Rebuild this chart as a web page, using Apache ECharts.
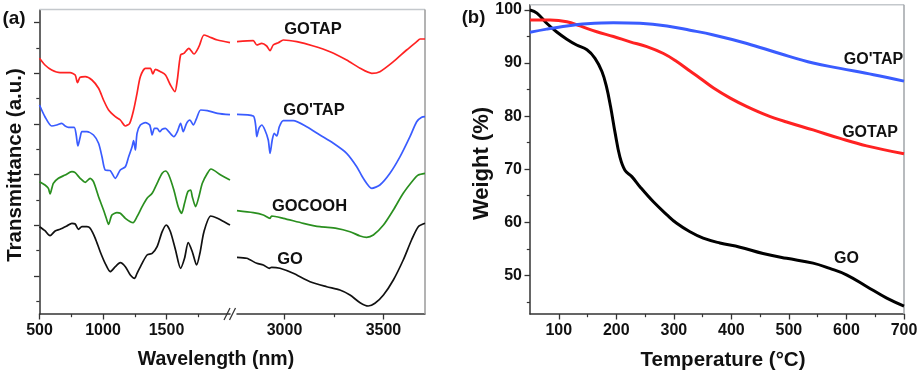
<!DOCTYPE html>
<html>
<head>
<meta charset="utf-8">
<script src="https://cdn.jsdelivr.net/npm/echarts@6/dist/echarts.min.js"></script>
<style>
html,body{margin:0;padding:0;background:#fff;}
#chart{width:922px;height:376px;}
</style>
</head>
<body>
<div id="chart"></div>
<script>
// (a) FTIR spectra, [wavenumber, transmittance a.u.], axis broken between 2000 and 2760
var gotapLeft = [[500,255.7],[543,249],[596,244],[662,241.3],[741,241.3],[781,239],[799,231.3],[820,236.7],[860,237.3],[913,234],[965,225.7],[1004,214],[1044,204],[1097,197.3],[1136,194],[1176,188],[1210,190.7],[1241,204],[1268,220.7],[1294,237.3],[1334,245.7],[1373,245.7],[1392,240],[1413,244.7],[1453,242.3],[1492,239],[1531,229],[1566,222.3],[1585,234],[1611,259],[1637,260.7],[1676,265.7],[1716,260],[1755,267.3],[1795,279],[1834,277.3],[1901,274],[2000,271.3]];
var gotapRight = [[2760,272.3],[2842,273.3],[2860,269],[2885,270.7],[2910,268],[2927,263.3],[2943,269],[2969,271.3],[2994,274],[3062,272.3],[3146,268],[3230,262.3],[3314,254],[3382,245.7],[3441,240.7],[3482,242.3],[3550,252.3],[3617,264],[3668,272.3],[3685,275],[3710,275]];
var goptapLeft = [[500,209],[543,197.3],[596,188],[636,189],[675,190.7],[702,188],[728,186.7],[773,186.7],[789,179],[802,168],[820,176.7],[834,182.3],[873,182.3],[925,179],[965,170.7],[992,157.3],[1017,144],[1057,143.3],[1097,135.7],[1136,144],[1176,147.3],[1202,157.3],[1229,167.3],[1241,173.3],[1255,164],[1268,180.7],[1294,189],[1334,191.3],[1368,189],[1387,179],[1405,185.7],[1426,185.7],[1447,182.3],[1466,184.7],[1492,185.7],[1518,182.3],[1558,177.3],[1585,182.3],[1611,190.7],[1632,182.3],[1658,190.7],[1684,194],[1711,189],[1737,195.7],[1769,204],[1822,203.3],[1901,200.7],[2000,199.3]];
var goptapRight = [[2760,199.7],[2842,198],[2854,189],[2860,177.3],[2871,185.7],[2885,189],[2901,184],[2918,174],[2927,160.7],[2938,174],[2948,180.7],[2961,178],[2974,187.3],[2994,193.3],[3044,193.3],[3112,187.3],[3179,179],[3247,170.7],[3314,160.7],[3365,147.3],[3398,135.7],[3441,125.7],[3482,129],[3533,140.7],[3584,157.3],[3634,177.3],[3668,192.3],[3693,196.7],[3710,197.3]];
var gocoohLeft = [[500,132.3],[543,129],[570,125.7],[583,120],[609,130.7],[649,135.7],[702,139],[755,142.3],[781,141.3],[820,135.7],[860,131.7],[899,135.7],[925,132.3],[965,117.3],[1004,104],[1026,95.7],[1044,89.7],[1070,99],[1110,101.3],[1136,100.7],[1176,95.7],[1215,92.3],[1237,91.3],[1268,97.3],[1308,107.3],[1347,115.7],[1387,120.7],[1426,130.7],[1466,140.7],[1492,143],[1518,139],[1558,124],[1592,107.3],[1619,100.7],[1642,110.7],[1668,122.3],[1690,124],[1703,117.3],[1729,107.3],[1755,117.3],[1782,130.7],[1822,140.7],[1850,145],[1927,139],[2000,134]];
var gocoohRight = [[2760,103.3],[2842,101.3],[2893,99],[2927,95.7],[2935,98],[2994,95.7],[3095,90.7],[3179,87.3],[3263,85.7],[3331,82.3],[3382,78],[3415,76.7],[3449,79],[3500,89],[3550,104],[3600,120.7],[3651,134],[3676,139],[3710,140.7]];
var goLeft = [[500,87.3],[543,83.3],[583,78.3],[623,83],[662,84.7],[715,88],[755,90.7],[781,90],[807,84.7],[834,87.3],[873,87.3],[899,85.7],[939,75.7],[978,62.3],[1017,50.7],[1057,42.3],[1097,47.3],[1136,51.3],[1176,47.3],[1215,39],[1249,35.7],[1268,40.7],[1308,50.7],[1347,59],[1387,60.7],[1426,67.3],[1466,82.3],[1498,89],[1531,82.3],[1571,64],[1611,45.7],[1642,55.7],[1671,71.3],[1703,62.3],[1737,49],[1763,60.7],[1795,82.3],[1848,98],[1901,95.7],[1953,92.3],[2000,89]];
var goRight = [[2760,56.7],[2809,55.7],[2860,50.7],[2893,49],[2923,45.7],[2935,46.7],[2977,45.7],[3044,40.7],[3129,32.3],[3213,27.3],[3280,24],[3331,19],[3382,11.3],[3423,8],[3457,10.7],[3500,19],[3550,34],[3600,54],[3642,74],[3676,87.3],[3710,90.7]];

// (b) TGA, [temperature °C, weight %]
var tgaGO = [[50,100],[62,99.4],[79,97.5],[96,95.9],[114,94.5],[131,93.4],[149,92.5],[163,90.9],[175,88.4],[183,85.5],[190,81.8],[198,76.8],[206,72.4],[215,69.8],[227,68.6],[241,66.7],[264,63.9],[288,61.4],[305,59.8],[328,58.2],[351,57.0],[380,56.1],[415,55.3],[455,54.1],[496,53.2],[542,52.3],[571,51.3],[600,50.1],[635,47.9],[670,45.7],[700,44.2]];
var tgaGOTAP = [[50,98.1],[85,98.1],[114,97.8],[137,97.0],[166,95.9],[195,95.0],[224,94.0],[253,93.1],[282,91.8],[305,90.3],[328,88.5],[345,87.2],[369,85.3],[398,83.4],[427,81.8],[461,80.2],[496,78.9],[542,77.4],[589,75.8],[635,74.4],[700,72.9]];
var tgaGOpTAP = [[50,95.8],[79,96.4],[114,97.0],[149,97.4],[195,97.6],[241,97.5],[288,97.0],[328,96.2],[369,95.3],[427,93.7],[484,91.8],[542,90.0],[589,89.0],[647,87.8],[700,86.6]];

var waveTicksLeft = [500,1000,1500];
var waveMinorLeft = [750,1250,1750];
var waveTicksRight = [3000,3500];
var waveMinorRight = [3250];
var transTicks = [38,88.7,139.3,190,240.7,291.3];
var transMinor = [12.7,63.3,114,164.7,215.3,266];
var tempTicks = [100,200,300,400,500,600,700];
var tempMinor = [150,250,350,450,550,650];
var weightTicks = [50,60,70,80,90,100];
var weightMinor = [45,55,65,75,85,95];

var FONT = '"Liberation Sans", Arial, sans-serif';
var AX = '#333';
var RED = '#ff2222', BLUE = '#3a5cff', GREEN = '#2a8f1f', BLACK = '#111';

function mainAxis(grid, pos, min, max, ticks, labels, margin){
	return {
		type:'value', gridIndex:grid, position:pos, min:min, max:max,
		axisLine:{show:true, onZero:false, lineStyle:{color:AX, width:1.5}},
		axisTick:{show:true, length:5.5, customValues:ticks, lineStyle:{color:AX, width:1.3}},
		axisLabel:{show:labels, customValues:ticks, margin:margin, color:'#111', fontSize:16, fontWeight:'bold', fontFamily:FONT,
			formatter:function(v){ return String(v); }},
		splitLine:{show:false}
	};
}
function minorAxis(grid, pos, min, max, ticks){
	return {
		type:'value', gridIndex:grid, position:pos, min:min, max:max,
		axisLine:{show:false, onZero:false},
		axisTick:{show:true, length:3.2, customValues:ticks, lineStyle:{color:AX, width:1.2}},
		axisLabel:{show:false},
		splitLine:{show:false}
	};
}
function line(name, x, y, data, color, width, smooth){
	return {
		name:name, type:'line', xAxisIndex:x, yAxisIndex:y, data:data,
		symbol:'none', smooth:smooth, lineStyle:{color:color, width:width}
	};
}
function label(text, x, y, size, rot){
	return {
		type:'text', x:x, y:y, rotation:rot||0, z:100,
		style:{text:text, font:'bold '+size+'px '+FONT, fill:'#111', align:'center', verticalAlign:'middle'}
	};
}
function seg(x1, y1, x2, y2, color, w){
	return {type:'line', z:1, shape:{x1:x1, y1:y1, x2:x2, y2:y2}, style:{stroke:color, lineWidth:w}};
}

var chart = echarts.init(document.getElementById('chart'));
var option = {
	animation:false,
	backgroundColor:'#fff',
	grid:[
		{left:39.5, top:10, width:190.5, height:304},
		{left:237, top:10, width:188, height:304},
		{left:530, top:4.7, width:374, height:309.3}
	],
	xAxis:[
		mainAxis(0, 'bottom', 500, 2000, waveTicksLeft, true, 9),
		minorAxis(0, 'bottom', 500, 2000, waveMinorLeft),
		mainAxis(1, 'bottom', 2760, 3710, waveTicksRight, true, 9),
		minorAxis(1, 'bottom', 2760, 3710, waveMinorRight),
		mainAxis(2, 'bottom', 50, 700, tempTicks, true, 9),
		minorAxis(2, 'bottom', 50, 700, tempMinor)
	],
	yAxis:[
		mainAxis(0, 'left', 0, 304, transTicks, false, 8),
		minorAxis(0, 'left', 0, 304, transMinor),
		{type:'value', gridIndex:1, min:0, max:304, show:false},
		mainAxis(2, 'left', 42.71, 101, weightTicks, true, 8),
		minorAxis(2, 'left', 42.71, 101, weightMinor)
	],
	series:[
		line('GOTAP', 0, 0, gotapLeft, RED, 1.7, 0.25),
		line('GOTAP', 2, 2, gotapRight, RED, 1.7, 0.25),
		line("GO'TAP", 0, 0, goptapLeft, BLUE, 1.7, 0.25),
		line("GO'TAP", 2, 2, goptapRight, BLUE, 1.7, 0.25),
		line('GOCOOH', 0, 0, gocoohLeft, GREEN, 1.7, 0.25),
		line('GOCOOH', 2, 2, gocoohRight, GREEN, 1.7, 0.25),
		line('GO', 0, 0, goLeft, BLACK, 1.7, 0.25),
		line('GO', 2, 2, goRight, BLACK, 1.7, 0.25),
		line('GO', 4, 3, tgaGO, '#000', 3, 0.4),
		line('GOTAP', 4, 3, tgaGOTAP, RED, 3, 0.4),
		line("GO'TAP", 4, 3, tgaGOpTAP, BLUE, 3, 0.4)
	],
	graphic:[
		seg(39.5, 9.5, 425, 9.5, '#c4c8cc', 1.5),
		seg(425, 9.5, 425, 314, '#9a9a9a', 1.5),
		seg(530, 4.7, 904, 4.7, '#c4c8cc', 1.5),
		seg(904, 4.7, 904, 314, '#a0a4a8', 1.5),
		seg(224, 320, 230, 308, AX, 1.3),
		seg(229.5, 320, 235.5, 308, AX, 1.3),
		label('(a)', 14, 19, 19),
		label('(b)', 473.5, 18, 18.5),
		label('Transmittance (a.u.)', 15, 165, 20.5, Math.PI/2),
		label('Wavelength (nm)', 216, 360, 19.5),
		label('Weight (%)', 482, 163.5, 22, Math.PI/2),
		label('Temperature (°C)', 723, 360, 20.5),
		label('GOTAP', 313, 29, 16.5),
		label("GO'TAP", 314, 110, 16.5),
		label('GOCOOH', 309.5, 206, 16.5),
		label('GO', 290, 259, 16.5),
		label("GO'TAP", 873.5, 60, 16),
		label('GOTAP', 870, 132.5, 16),
		label('GO', 846.5, 259, 16)
	]
};
chart.setOption(option);
</script>
</body>
</html>
